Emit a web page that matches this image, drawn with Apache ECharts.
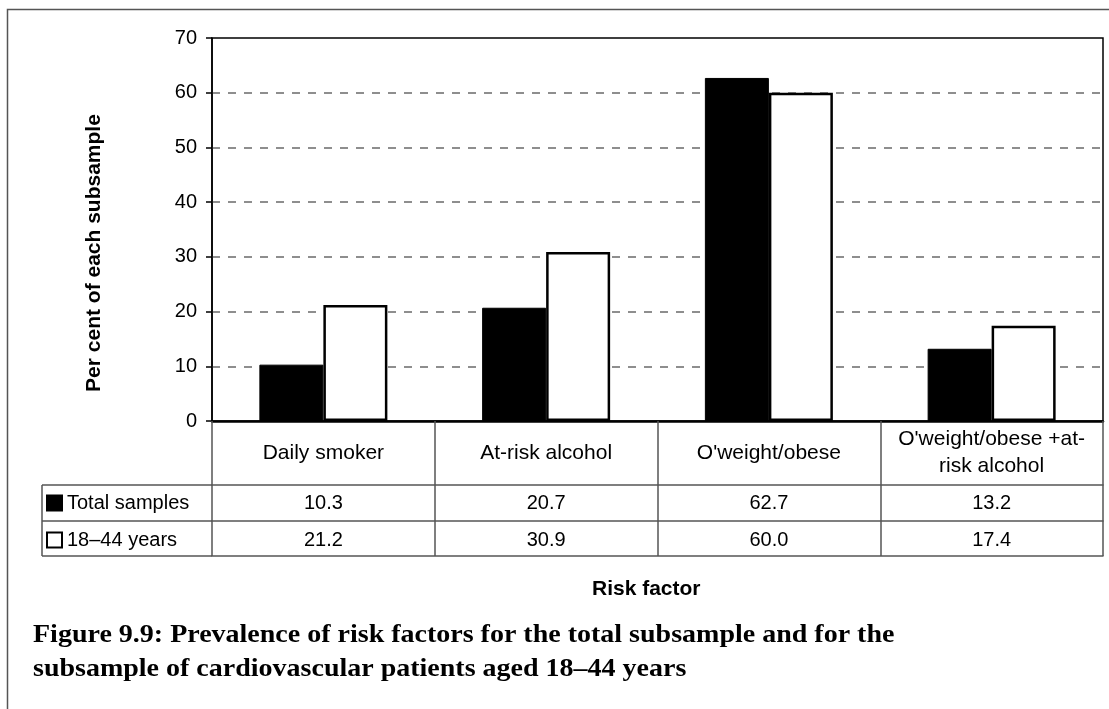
<!DOCTYPE html>
<html>
<head>
<meta charset="utf-8">
<script src="https://cdn.jsdelivr.net/npm/echarts@6/dist/echarts.min.js"></script>
<style>
  html, body { margin: 0; padding: 0; background: #fff; }
  #chart { width: 1109px; height: 709px; }
</style>
</head>
<body>
<div id="chart"></div>
<script>
// Risk factor categories and the two subsamples (per cent)
const categories = ['Daily smoker', 'At-risk alcohol', "O'weight/obese", "O'weight/obese +at-\nrisk alcohol"];
const totalSamples = [10.3, 20.7, 62.7, 13.2];
const youngAdults = [21.2, 30.9, 60.0, 17.4];
const seriesNames = ['Total samples', '18\u201344 years'];
const yTicks = { min: 0, max: 70, step: 10 };

const captionLines = [
  'Figure 9.9: Prevalence of risk factors for the total subsample and for the',
  'subsample of cardiovascular patients aged 18\u201344 years'
];
const xTitle = 'Risk factor';
const yTitle = 'Per cent of each subsample';

// layout of the plot and the data table beneath it
const W = 1109, H = 709;
const plotLeft = 212, plotTop = 38, plotRight = 1103, plotBottom = 421;
const rowLines = [485, 521, 556];   // table row borders under the category row
const tableLeft = 42;
const font = 'Liberation Sans, Arial, sans-serif';
const serif = 'Liberation Serif, Times New Roman, serif';

const chart = echarts.init(document.getElementById('chart'), null, { renderer: 'canvas' });

const gridLineColors = [];
for (let v = yTicks.min; v <= yTicks.max; v += yTicks.step) {
  gridLineColors.push(v === yTicks.min || v === yTicks.max ? 'rgba(0,0,0,0)' : '#6a6a6a');
}

function tableAxis(offset, values, margin) {
  return {
    type: 'category',
    data: categories,
    position: 'bottom',
    offset: offset,
    gridIndex: 0,
    axisLine: { show: true, lineStyle: { color: '#555', width: 1.5 } },
    axisTick: { show: false },
    splitLine: { show: false },
    axisLabel: {
      show: !!values,
      interval: 0,
      margin: margin,
      verticalAlign: 'middle',
      fontFamily: font,
      fontSize: 20,
      color: '#000',
      formatter: (v, i) => values ? values[i].toFixed(1) : ''
    }
  };
}

const captionGraphics = captionLines.map((line, i) => ({
  type: 'text', silent: true,
  x: 33, y: 636 + i * 34, scaleX: 1.12,
  style: { text: line, font: 'bold 25px ' + serif, fill: '#000', align: 'left', verticalAlign: 'middle' }
}));

const option = {
  backgroundColor: '#fff',
  animation: false,
  title: {
    text: xTitle,
    left: 592, top: 579, padding: 0,
    textStyle: { fontFamily: font, fontSize: 21, fontWeight: 'bold', color: '#000' }
  },
  legend: {
    orient: 'vertical',
    left: 46, top: 493, padding: 0,
    itemWidth: 15, itemHeight: 15,
    itemGap: 17,
    icon: 'rect',
    textStyle: { fontFamily: font, fontSize: 20, color: '#000', lineHeight: 20 },
    data: seriesNames
  },
  grid: {
    left: plotLeft, top: plotTop,
    right: W - plotRight, bottom: H - plotBottom,
    show: true, borderColor: '#000', borderWidth: 1.5,
    containLabel: false
  },
  xAxis: [
    {
      type: 'category',
      data: categories,
      boundaryGap: true,
      axisLine: { show: true, lineStyle: { color: '#000', width: 2.5 } },
      axisTick: { show: true, length: rowLines[2] - plotBottom, lineStyle: { color: '#555', width: 1.5 } },
      axisLabel: {
        interval: 0, margin: 32, verticalAlign: 'middle',
        fontFamily: font, fontSize: 21, color: '#000', lineHeight: 27
      }
    },
    tableAxis(rowLines[0] - plotBottom, totalSamples, 18),
    tableAxis(rowLines[1] - plotBottom, youngAdults, 19),
    tableAxis(rowLines[2] - plotBottom, null, 0)
  ],
  yAxis: {
    type: 'value',
    min: yTicks.min, max: yTicks.max, interval: yTicks.step,
    axisLine: { show: true, lineStyle: { color: '#000', width: 1.5 } },
    axisTick: { show: true, length: 6, lineStyle: { color: '#000', width: 1.5 } },
    axisLabel: { margin: 15, fontFamily: font, fontSize: 20, color: '#000' },
    splitLine: { show: true, lineStyle: { color: gridLineColors, type: [8, 8], width: 1.5 } }
  },
  series: [
    {
      name: seriesNames[0], type: 'bar', data: totalSamples,
      barWidth: 64, barGap: '0%',
      itemStyle: { color: '#000', borderColor: '#000', borderWidth: 1 }
    },
    {
      name: seriesNames[1], type: 'bar', data: youngAdults,
      barWidth: 64, barGap: '0%',
      itemStyle: { color: '#fff', borderColor: '#000', borderWidth: 2.5 }
    }
  ],
  graphic: [
    // frame around the whole figure
    { type: 'rect', silent: true, shape: { x: 7.5, y: 9.5, width: W + 20, height: H + 20 },
      style: { fill: 'none', stroke: '#555', lineWidth: 1.5 } },
    // y-axis title
    { type: 'text', silent: true, x: 94, y: 253, rotation: Math.PI / 2,
      style: { text: yTitle, font: 'bold 21px ' + font, fill: '#000', align: 'center', verticalAlign: 'middle' } },
    // legend column of the data table
    { type: 'line', silent: true, shape: { x1: tableLeft, y1: rowLines[0], x2: plotLeft, y2: rowLines[0] },
      style: { stroke: '#555', lineWidth: 1.5 } },
    { type: 'line', silent: true, shape: { x1: tableLeft, y1: rowLines[1], x2: plotLeft, y2: rowLines[1] },
      style: { stroke: '#555', lineWidth: 1.5 } },
    { type: 'line', silent: true, shape: { x1: tableLeft, y1: rowLines[2], x2: plotLeft, y2: rowLines[2] },
      style: { stroke: '#555', lineWidth: 1.5 } },
    { type: 'line', silent: true, shape: { x1: tableLeft, y1: rowLines[0], x2: tableLeft, y2: rowLines[2] },
      style: { stroke: '#555', lineWidth: 1.5 } }
  ].concat(captionGraphics)
};

chart.setOption(option);
</script>
</body>
</html>
